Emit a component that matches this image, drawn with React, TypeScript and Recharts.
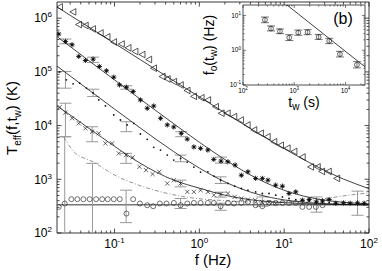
import React from 'react';
import {
  ComposedChart, XAxis, YAxis, Scatter, Line, ErrorBar,
  ReferenceLine, ReferenceArea, CartesianGrid,
} from 'recharts';

// ---------- layout constants ----------
const W = 382;
const H = 271;
const M_TOP = 2;
const M_RIGHT = 13;
const Y_W = 57;
const X_H = 38;
const PLOT_TOP = M_TOP;
const PLOT_RIGHT = W - M_RIGHT;
const FONT = '"Liberation Sans", Arial, Helvetica, sans-serif';
const AX = '#222';

// ---------- main panel: ticks ----------
const xMajor = [0.1, 1, 10, 100];
const xMinor = [0.03, 0.04, 0.05, 0.06, 0.07, 0.08, 0.09, 0.2, 0.3, 0.4, 0.5, 0.6, 0.7, 0.8, 0.9,
  2, 3, 4, 5, 6, 7, 8, 9, 20, 30, 40, 50, 60, 70, 80, 90];
const yMajor = [1e2, 1e3, 1e4, 1e5, 1e6];
const yMinor = [200, 300, 400, 500, 600, 700, 800, 900, 2e3, 3e3, 4e3, 5e3, 6e3, 7e3, 8e3, 9e3,
  2e4, 3e4, 4e4, 5e4, 6e4, 7e4, 8e4, 9e4, 2e5, 3e5, 4e5, 5e5, 6e5, 7e5, 8e5, 9e5];

// ---------- main panel: data ----------
const triF = [0.0226, 0.0325, 0.0379, 0.0454, 0.0553, 0.0682, 0.0819, 0.098, 0.121, 0.145, 0.175, 0.212,
  0.254, 0.29, 0.366, 0.42, 0.5, 0.6, 0.72, 0.86, 1.055, 1.26, 1.56, 1.82, 2.14, 2.56, 3.07, 3.68, 4.41,
  5.28, 6.34, 7.59, 9.1, 10.9, 13.1, 16.4, 20.6, 24.7, 27.8, 33.3, 41.8];
const triT = [1.62e6, 1.31e6, 7.6e5, 7.3e5, 6.3e5, 5.3e5, 4.5e5, 3.6e5, 3.3e5, 2.8e5, 2.4e5, 2.1e5,
  1.7e5, 1.17e5, 8.2e4, 7.4e4, 6.6e4, 5.7e4, 4.5e4, 3.5e4, 3.3e4, 3.0e4, 2.25e4, 1.7e4, 1.7e4, 1.47e4,
  1.27e4, 1.03e4, 8.3e3, 7.2e3, 6.2e3, 5.0e3, 4.3e3, 3.8e3, 3.3e3, 2.6e3, 1.7e3, 1.7e3, 1.4e3, 1.4e3, 1.04e3];

const astF = [0.022, 0.0264, 0.0316, 0.0379, 0.0454, 0.056, 0.0664, 0.0803, 0.098, 0.1145, 0.138, 0.166,
  0.202, 0.243, 0.29, 0.349, 0.419, 0.5, 0.612, 0.72, 0.863, 1.035, 1.26, 1.48, 1.8, 2.17, 2.64, 3.13,
  3.74, 4.61, 5.53, 6.44, 7.94, 9.53, 11.4, 13.7, 16.4, 19.7, 24, 28.3, 33.9, 40.6, 50.1, 60, 73.3, 87.7];
const astT = [5.07e5, 3.69e5, 3.2e5, 1.94e5, 1.63e5, 1.73e5, 1.26e5, 1.05e5, 7.98e4, 5.73e4, 5.19e4, 4.3e4,
  3.0e4, 2.1e4, 2.32e4, 1.37e4, 1.03e4, 9.4e3, 7.2e3, 5.6e3, 4.0e3, 3.77e3, 3.5e3, 2.35e3, 2.18e3, 2.12e3,
  1.84e3, 1.19e3, 1.38e3, 1.04e3, 1.04e3, 964, 778, 745, 544, 583, 408, 420, 379, 396, 420, 358, 363, 358, 363, 358];

const dotF = [0.0224, 0.0271, 0.0325, 0.0389, 0.0467, 0.056, 0.0652, 0.0782, 0.098, 0.1175, 0.141, 0.169,
  0.202, 0.243, 0.29, 0.349, 0.419, 0.5, 0.601, 0.721, 0.863, 1.035, 1.262, 1.485, 1.782, 2.174, 2.61,
  3.13, 3.74, 4.61, 5.53, 6.63, 7.95, 9.54, 11.4, 13.7, 16.4, 19.7, 23.6, 28.3, 33.9];
const dotT = [1.0e5, 7.1e4, 5.98e4, 6.17e4, 5.0e4, 4.06e4, 3.0e4, 2.32e4, 1.58e4, 1.27e4, 1.03e4, 1.1e4,
  6.97e3, 5.55e3, 3.94e3, 3.5e3, 2.82e3, 2.28e3, 2.45e3, 2.09e3, 1.69e3, 1.36e3, 1.38e3, 1.15e3, 964, 836,
  745, 675, 627, 583, 544, 544, 506, 470, 439, 420, 408, 391, 383, 374, 366];

const crossF = [0.0226, 0.0264, 0.0316, 0.0379, 0.0454, 0.0545, 0.0652, 0.0782, 0.0937, 0.1123, 0.137,
  0.164, 0.197, 0.235, 0.281, 0.337, 0.419, 0.5, 0.601, 0.721, 0.863, 1.035, 1.262, 1.485, 1.782, 2.174,
  2.61, 3.13, 3.74, 4.55, 5.45, 6.63, 7.95];
const crossT = [2.2e4, 1.74e4, 1.37e4, 1.1e4, 8.9e3, 7.7e3, 7.2e3, 4.67e3, 4.67e3, 3.04e3, 2.82e3, 2.56e3,
  1.71e3, 1.48e3, 1.25e3, 1.38e3, 836, 964, 836, 583, 583, 627, 583, 506, 528, 544, 470, 439, 420, 408,
  379, 374, 358];

const circF = [0.022, 0.0259, 0.031, 0.0365, 0.043, 0.051, 0.0607, 0.0715, 0.0832, 0.098, 0.1153, 0.1384,
  0.166, 0.199, 0.243, 0.286, 0.342, 0.41, 0.501, 0.601, 0.721, 0.863, 1.035, 1.262, 1.485, 1.782, 2.174,
  2.558, 3.13, 3.74, 4.61, 5.53, 6.63, 7.95, 9.54, 11.4, 13.7, 16.4, 19.7, 23.6, 28.3];
const circT = [306, 354, 426, 426, 426, 426, 426, 426, 426, 426, 426, 230,
  426, 354, 329, 315, 354, 354, 363, 329, 354, 363, 363, 363, 363, 315, 363,
  354, 363, 379, 329, 315, 363, 363, 363, 363, 363, 306, 306, 306, 329];

// error bars (gray): position, marker value, lower and upper ends
const errF = [0.0264, 0.056, 0.138, 0.612, 1.8, 73.3,
  0.0264, 0.056, 0.138, 0.601, 1.782,
  0.0264, 0.0545, 0.137, 0.601, 1.782,
  0.0259, 0.055, 0.137, 0.601, 1.782, 5.53, 24];
const errMid = [3.69e5, 1.73e5, 5.19e4, 7.2e3, 2.18e3, 363,
  7.1e4, 4.06e4, 9.5e3, 2.45e3, 964,
  1.27e4, 7.0e3, 2.45e3, 836, 528,
  354, 426, 230, 329, 315, 354, 306];
const errLo = [3.34e5, 1.5e5, 4.76e4, 6.2e3, 2.0e3, 214,
  4.97e4, 3.47e4, 7.7e3, 2.12e3, 836,
  6.2e3, 5.0e3, 1.98e3, 723, 464,
  100, 100, 156, 286, 265, 315, 244];
const errHi = [4.09e5, 1.88e5, 5.49e4, 7.7e3, 2.59e3, 601,
  1.02e5, 4.76e4, 1.18e4, 2.82e3, 1.11e3,
  2.61e4, 9.5e3, 3.04e3, 964, 575,
  6.2e3, 1.98e3, 627, 439, 359, 469, 469];

// fitted curves
const fitF = [0.021, 0.03, 0.05, 0.1, 0.2, 0.5, 1, 2, 5, 10, 20, 50, 100];
const triFit = [1.62e6, 1.13e6, 6.8e5, 3.4e5, 1.7e5, 6.8e4, 3.43e4, 1.73e4, 7.1e3, 3.73e3, 2.03e3, 1.01e3, 670];
const astFit = [4.54e5, 2.97e5, 1.61e5, 7.1e4, 3.13e4, 1.08e4, 4.9e3, 2.33e3, 1.0e3, 625, 459, 373, 349];
const dotFit = [1.28e5, 8.4e4, 4.59e4, 2.03e4, 9.09e3, 3.27e3, 1.62e3, 895, 520, 413, 366, 342, 335];
const crossFit = [2.32e4, 1.57e4, 8.9e3, 4.12e3, 2.0e3, 964, 684, 506, 399, 367, 350, 338, 334];
const ddF = [0.0252, 0.033, 0.0569, 0.1, 0.193, 0.72, 2, 5, 12, 25, 50, 100];
const ddT = [6100, 3300, 2090, 1200, 778, 464, 400, 375, 380, 420, 490, 560];
const roomT = 335;

// ---------- inset (b) ----------
const twVals = [268, 352, 526, 800, 1197, 1824, 2990, 4810, 7780, 16700];
const foVals = [7.5, 4.2, 3.5, 2.3, 3.2, 3.3, 2.4, 1.85, 0.77, 0.38];
const foLo = [6.2, 3.6, 3.0, 1.9, 2.7, 2.8, 2.05, 1.55, 0.64, 0.31];
const foHi = [9.0, 5.0, 4.1, 2.8, 3.8, 3.9, 2.85, 2.2, 0.93, 0.47];
const fitTw = [721, 24000];
const fitFo = [20, 0.333];
const inXMajor = [100, 1000, 10000];
const inXMinor = [200, 300, 400, 500, 600, 700, 800, 900, 2000, 3000, 4000, 5000, 6000, 7000, 8000, 9000, 20000];
const inYMajor = [0.1, 1, 10];
const inYMinor = [0.2, 0.3, 0.4, 0.5, 0.6, 0.7, 0.8, 0.9, 2, 3, 4, 5, 6, 7, 8, 9];

// ---------- tables ----------
const zip = (xs: number[], ys: number[]) => xs.map((f, i) => ({ f, T: ys[i] }));
const triData = zip(triF, triT);
const astData = zip(astF, astT);
const dotData = zip(dotF, dotT);
const crossData = zip(crossF, crossT);
const circData = zip(circF, circT);
const errData = errF.map((f, i) => ({ f, T: errMid[i], err: [errMid[i] - errLo[i], errHi[i] - errMid[i]] }));
const triFitData = zip(fitF, triFit);
const astFitData = zip(fitF, astFit);
const dotFitData = zip(fitF, dotFit);
const crossFitData = zip(fitF, crossFit);
const ddData = zip(ddF, ddT);
const insetData = twVals.map((tw, i) => ({ tw, fo: foVals[i], err: [foVals[i] - foLo[i], foHi[i] - foVals[i]] }));
const insetFit = fitTw.map((tw, i) => ({ tw, fo: fitFo[i] }));

const sortNum = (a: number[]) => [...a].sort((p, q) => p - q);
const xTicks = sortNum([...xMajor, ...xMinor]);
const yTicks = sortNum([...yMajor, ...yMinor]);
const inXTicks = sortNum([...inXMajor, ...inXMinor]);
const inYTicks = sortNum([...inYMajor, ...inYMinor]);

const isMajor = (v: number) => Math.abs(Math.log10(v) - Math.round(Math.log10(v))) < 1e-9;
const expOf = (v: number) => Math.round(Math.log10(v));

// ---------- tick components ----------
const MainXTick = (props: any) => {
  const { x, y, payload } = props;
  const v = payload.value;
  const maj = isMajor(v);
  const len = maj ? 4.5 : 2.5;
  return (
    <g>
      <line x1={x} y1={y} x2={x} y2={y - len} stroke={AX} strokeWidth={0.8} />
      <line x1={x} y1={PLOT_TOP} x2={x} y2={PLOT_TOP + len} stroke={AX} strokeWidth={0.8} />
      {maj && (
        <text x={x} y={y + 15} textAnchor="middle" fontFamily={FONT} fontSize={12} fill="#000">
          10<tspan dy={-5} fontSize={8}>{expOf(v)}</tspan>
        </text>
      )}
    </g>
  );
};

const MainYTick = (props: any) => {
  const { x, y, payload } = props;
  const v = payload.value;
  const maj = isMajor(v);
  const len = maj ? 4.5 : 2.5;
  return (
    <g>
      <line x1={x} y1={y} x2={x + len} y2={y} stroke={AX} strokeWidth={0.8} />
      <line x1={PLOT_RIGHT} y1={y} x2={PLOT_RIGHT - len} y2={y} stroke={AX} strokeWidth={0.8} />
      {maj && (
        <text x={x - 5} y={y + 4.3} textAnchor="end" fontFamily={FONT} fontSize={12} fill="#000">
          10<tspan dy={-5} fontSize={8}>{expOf(v)}</tspan>
        </text>
      )}
    </g>
  );
};

const IN_TOP = 5;
const IN_RIGHT = 170;

const InsetXTick = (props: any) => {
  const { x, y, payload } = props;
  const v = payload.value;
  const maj = isMajor(v);
  const len = maj ? 3 : 1.6;
  return (
    <g>
      <line x1={x} y1={y} x2={x} y2={y - len} stroke={AX} strokeWidth={0.6} />
      <line x1={x} y1={IN_TOP} x2={x} y2={IN_TOP + len} stroke={AX} strokeWidth={0.6} />
      {maj && (
        <text x={x} y={y + 7.5} textAnchor="middle" fontFamily={FONT} fontSize={6.5} fill="#000">
          10<tspan dy={-2.8} fontSize={4.5}>{expOf(v)}</tspan>
        </text>
      )}
    </g>
  );
};

const InsetYTick = (props: any) => {
  const { x, y, payload } = props;
  const v = payload.value;
  const maj = isMajor(v);
  const len = maj ? 3 : 1.6;
  return (
    <g>
      <line x1={x} y1={y} x2={x + len} y2={y} stroke={AX} strokeWidth={0.6} />
      <line x1={IN_RIGHT} y1={y} x2={IN_RIGHT - len} y2={y} stroke={AX} strokeWidth={0.6} />
      {maj && (
        <text x={x - 2} y={y + 2.2} textAnchor="end" fontFamily={FONT} fontSize={6.5} fill="#000">
          10<tspan dy={-2.8} fontSize={4.5}>{expOf(v)}</tspan>
        </text>
      )}
    </g>
  );
};

// ---------- titles ----------
const XTitle = () => (
  <text x={213} y={265} textAnchor="middle" fontFamily={FONT} fontSize={15} fill="#000">f (Hz)</text>
);
const YTitle = () => (
  <text transform="translate(17,118) rotate(-90)" textAnchor="middle" fontFamily={FONT} fontSize={15} fill="#000">
    T<tspan dy={3.5} fontSize={10}>eff</tspan>
    <tspan dy={-3.5}>(f,t</tspan>
    <tspan dy={3.5} fontSize={10}>w</tspan>
    <tspan dy={-3.5}>) (K)</tspan>
  </text>
);
const InsetXTitle = () => (
  <text x={109} y={106.5} textAnchor="middle" fontFamily={FONT} fontSize={14} fill="#000">
    t<tspan dy={3} fontSize={10}>w</tspan>
    <tspan dy={-3}> (s)</tspan>
  </text>
);
const InsetYTitle = () => (
  <text transform="translate(19,45) rotate(-90)" textAnchor="middle" fontFamily={FONT} fontSize={14} fill="#000">
    f<tspan dy={3} fontSize={10}>o</tspan>
    <tspan dy={-3}>(t</tspan>
    <tspan dy={3} fontSize={10}>w</tspan>
    <tspan dy={-3}>) (Hz)</tspan>
  </text>
);
const BLabel = () => (
  <text x={148} y={24} textAnchor="middle" fontFamily={FONT} fontSize={16} fill="#000">(b)</text>
);

// ---------- markers ----------
const TriShape = (p: any) => {
  const { cx, cy } = p;
  if (cx == null || cy == null) return <g />;
  return (
    <polygon points={`${cx - 3.2},${cy} ${cx + 2.8},${cy - 3.3} ${cx + 2.8},${cy + 3.3}`}
      fill="none" stroke="#111" strokeWidth={0.7} />
  );
};
const AstShape = (p: any) => {
  const { cx, cy } = p;
  if (cx == null || cy == null) return <g />;
  const r = 2.6;
  const d = 1.85;
  return (
    <g stroke="#111" strokeWidth={0.9}>
      <line x1={cx - r} y1={cy} x2={cx + r} y2={cy} />
      <line x1={cx} y1={cy - r} x2={cx} y2={cy + r} />
      <line x1={cx - d} y1={cy - d} x2={cx + d} y2={cy + d} />
      <line x1={cx - d} y1={cy + d} x2={cx + d} y2={cy - d} />
      <circle cx={cx} cy={cy} r={1.2} fill="#111" stroke="none" />
    </g>
  );
};
const DotShape = (p: any) => {
  const { cx, cy } = p;
  if (cx == null || cy == null) return <g />;
  return <circle cx={cx} cy={cy} r={0.9} fill="#111" />;
};
const CrossShape = (p: any) => {
  const { cx, cy } = p;
  if (cx == null || cy == null) return <g />;
  const r = 2.1;
  return (
    <g stroke="#222" strokeWidth={0.7}>
      <line x1={cx - r} y1={cy - r} x2={cx + r} y2={cy + r} />
      <line x1={cx - r} y1={cy + r} x2={cx + r} y2={cy - r} />
    </g>
  );
};
const CircShape = (p: any) => {
  const { cx, cy } = p;
  if (cx == null || cy == null) return <g />;
  return <circle cx={cx} cy={cy} r={2.5} fill="none" stroke="#333" strokeWidth={0.7} />;
};
const InsetCirc = (p: any) => {
  const { cx, cy } = p;
  if (cx == null || cy == null) return <g />;
  return <circle cx={cx} cy={cy} r={2.4} fill="none" stroke="#222" strokeWidth={0.7} />;
};
const NoShape = () => <g />;

const fitProps = {
  type: 'monotone' as const,
  dataKey: 'T',
  stroke: '#111',
  strokeWidth: 0.8,
  dot: false,
  activeDot: false,
  isAnimationActive: false,
};

export default function App() {
  return (
    <div style={{ position: 'relative', width: W, height: H, background: '#fff' }}>
      <style>{'body{margin:0;}'}</style>
      <ComposedChart width={W} height={H} margin={{ top: M_TOP, right: M_RIGHT, left: 0, bottom: 0 }}>
        <XAxis dataKey="f" type="number" scale="log" domain={[0.021, 100]} allowDataOverflow
          ticks={xTicks} interval={0} tick={<MainXTick />} tickLine={false} axisLine={false}
          tickSize={0} tickMargin={0} height={X_H} label={<XTitle />} />
        <YAxis dataKey="T" type="number" scale="log" domain={[100, 2e6]} allowDataOverflow
          ticks={yTicks} interval={0} tick={<MainYTick />} tickLine={false} axisLine={false}
          tickSize={0} tickMargin={0} width={Y_W} label={<YTitle />} />
        <ReferenceArea x1={0.021} x2={100} y1={100} y2={2e6} fill="none" fillOpacity={0}
          stroke={AX} strokeWidth={0.9} ifOverflow="visible" />
        <ReferenceLine y={roomT} stroke="#777" strokeWidth={1.6} ifOverflow="visible" />
        <Scatter data={errData} dataKey="T" shape={NoShape} isAnimationActive={false}>
          <ErrorBar dataKey="err" direction="y" width={6} stroke="#999" strokeWidth={1} isAnimationActive={false} />
        </Scatter>
        <Line data={ddData} {...fitProps} stroke="#777" strokeDasharray="4 2 1 2" />
        <Line data={crossFitData} {...fitProps} />
        <Line data={dotFitData} {...fitProps} />
        <Line data={astFitData} {...fitProps} />
        <Line data={triFitData} {...fitProps} />
        <Scatter data={circData} dataKey="T" shape={CircShape} isAnimationActive={false} />
        <Scatter data={crossData} dataKey="T" shape={CrossShape} isAnimationActive={false} />
        <Scatter data={dotData} dataKey="T" shape={DotShape} isAnimationActive={false} />
        <Scatter data={astData} dataKey="T" shape={AstShape} isAnimationActive={false} />
        <Scatter data={triData} dataKey="T" shape={TriShape} isAnimationActive={false} />
      </ComposedChart>

      <div style={{ position: 'absolute', left: 195, top: 0, width: 187, height: 115 }}>
        <ComposedChart width={187} height={115} margin={{ top: IN_TOP, right: 17, left: 0, bottom: 0 }}>
          <CartesianGrid horizontal={false} vertical={false} fill="#fff" fillOpacity={1} />
          <XAxis dataKey="tw" type="number" scale="log" domain={[100, 24000]} allowDataOverflow
            ticks={inXTicks} interval={0} tick={<InsetXTick />} tickLine={false} axisLine={false}
            tickSize={0} tickMargin={0} height={30} label={<InsetXTitle />} />
          <YAxis dataKey="fo" type="number" scale="log" domain={[0.1, 20]} allowDataOverflow
            ticks={inYTicks} interval={0} tick={<InsetYTick />} tickLine={false} axisLine={false}
            tickSize={0} tickMargin={0} width={48} label={<InsetYTitle />} />
          <ReferenceArea x1={100} x2={24000} y1={0.1} y2={20} fill="none" fillOpacity={0}
            stroke={AX} strokeWidth={0.8} ifOverflow="visible" label={<BLabel />} />
          <Line data={insetFit} type="linear" dataKey="fo" stroke="#111" strokeWidth={0.8}
            dot={false} activeDot={false} isAnimationActive={false} />
          <Scatter data={insetData} dataKey="fo" shape={InsetCirc} isAnimationActive={false}>
            <ErrorBar dataKey="err" direction="y" width={4} stroke="#333" strokeWidth={0.7} isAnimationActive={false} />
          </Scatter>
        </ComposedChart>
      </div>
    </div>
  );
}
